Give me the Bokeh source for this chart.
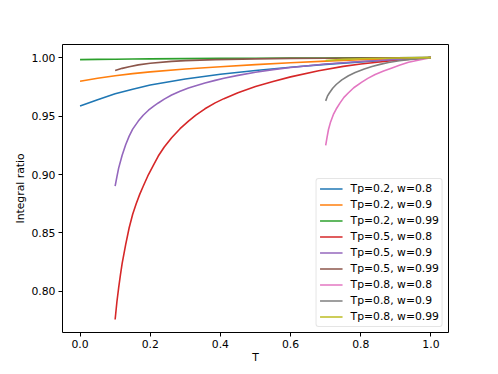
from bokeh.plotting import figure
from bokeh.models import Range1d, FixedTicker, Legend, LegendItem
from bokeh.embed import file_html
from bokeh.resources import INLINE

# ---- data ----
t_a = [0.0, 0.05, 0.1, 0.15, 0.2, 0.3, 0.4, 0.5, 0.6, 0.7, 0.8, 0.9, 1.0]
tp02_w08 = [0.9585, 0.9640, 0.9690, 0.9730, 0.9765, 0.9817, 0.9857, 0.9890, 0.9918, 0.9942, 0.9963, 0.9982, 1.0]
tp02_w09 = [0.9798, 0.9823, 0.9845, 0.9863, 0.9878, 0.9902, 0.9922, 0.9940, 0.9956, 0.9970, 0.9981, 0.9991, 1.0]
tp02_w099 = [0.9983, 0.9985, 0.9986, 0.9988, 0.9989, 0.9991, 0.9993, 0.9995, 0.9996, 0.9997, 0.9998, 0.9999, 1.0]

t_red = [0.1, 0.105, 0.11, 0.115, 0.12, 0.13, 0.14, 0.15, 0.16, 0.17, 0.18, 0.195, 0.21, 0.223,
         0.24, 0.261, 0.285, 0.309, 0.33, 0.356, 0.385, 0.41, 0.45, 0.5, 0.55, 0.6, 0.68, 0.75,
         0.8, 0.9, 1.0]
tp05_w08 = [0.776, 0.791, 0.803, 0.814, 0.824, 0.840, 0.8545, 0.866, 0.875, 0.883, 0.890, 0.900,
            0.9085, 0.9158, 0.9235, 0.9315, 0.9392, 0.9457, 0.9508, 0.9562, 0.9613, 0.9649, 0.970,
            0.9752, 0.9795, 0.9835, 0.9888, 0.9925, 0.9945, 0.9977, 1.0]

t_purple = [0.1, 0.105, 0.11, 0.12, 0.13, 0.14, 0.15, 0.166, 0.18, 0.195, 0.21, 0.223, 0.24,
            0.261, 0.285, 0.309, 0.33, 0.356, 0.385, 0.41, 0.45, 0.5, 0.55, 0.6, 0.7, 0.8, 0.9, 1.0]
tp05_w09 = [0.890, 0.898, 0.9055, 0.9165, 0.9255, 0.9328, 0.9388, 0.9457, 0.9507, 0.955, 0.9585,
            0.9612, 0.9645, 0.9680, 0.9713, 0.9740, 0.9760, 0.9782, 0.9805, 0.9823, 0.9848,
            0.9875, 0.9897, 0.9915, 0.9945, 0.9966, 0.9984, 1.0]

t_brown = [0.1, 0.12, 0.14, 0.166, 0.2, 0.261, 0.3, 0.385, 0.5, 0.6, 0.7, 0.8, 0.9, 1.0]
tp05_w099 = [0.9890, 0.9908, 0.9922, 0.9938, 0.9952, 0.9968, 0.9974, 0.9983, 0.9989, 0.9993,
             0.9995, 0.9997, 0.9999, 1.0]

t_pink = [0.7, 0.704, 0.708, 0.714, 0.722, 0.73, 0.741, 0.752, 0.765, 0.78, 0.803, 0.82, 0.841,
          0.865, 0.889, 0.91, 0.936, 0.97, 1.0]
tp08_w08 = [0.925, 0.932, 0.9385, 0.945, 0.9514, 0.956, 0.9613, 0.966, 0.9699, 0.9742, 0.979,
            0.9822, 0.9855, 0.9885, 0.9912, 0.9934, 0.996, 0.9982, 1.0]

t_gray = [0.7, 0.705, 0.71, 0.72, 0.73, 0.746, 0.765, 0.784, 0.81, 0.832, 0.855, 0.879, 0.91,
          0.936, 0.97, 1.0]
tp08_w09 = [0.963, 0.967, 0.9695, 0.9738, 0.977, 0.981, 0.9845, 0.9872, 0.9903, 0.9924, 0.9942,
            0.9958, 0.9973, 0.9983, 0.9993, 1.0]

t_olive = [0.7, 0.75, 0.8, 0.9, 1.0]
tp08_w099 = [0.9975, 0.9985, 0.9990, 0.9996, 1.0]

labels = ["Tp=0.2, w=0.8", "Tp=0.2, w=0.9", "Tp=0.2, w=0.99",
          "Tp=0.5, w=0.8", "Tp=0.5, w=0.9", "Tp=0.5, w=0.99",
          "Tp=0.8, w=0.8", "Tp=0.8, w=0.9", "Tp=0.8, w=0.99"]
colors = ["#1f77b4", "#ff7f0e", "#2ca02c", "#d62728", "#9467bd",
          "#8c564b", "#e377c2", "#7f7f7f", "#bcbd22"]

x_ticks = [0.0, 0.2, 0.4, 0.6, 0.8, 1.0]
x_tick_labels = ["0.0", "0.2", "0.4", "0.6", "0.8", "1.0"]
y_ticks = [0.80, 0.85, 0.90, 0.95, 1.00]
y_tick_labels = ["0.80", "0.85", "0.90", "0.95", "1.00"]

series = [(t_a, tp02_w08), (t_a, tp02_w09), (t_a, tp02_w099),
          (t_red, tp05_w08), (t_purple, tp05_w09), (t_brown, tp05_w099),
          (t_pink, tp08_w08), (t_gray, tp08_w09), (t_olive, tp08_w099)]

FONT = "DejaVu Sans"
FS = "10.8px"

p = figure(width=490, height=366, output_backend="svg", toolbar_location=None,
           x_range=Range1d(-0.05, 1.05), y_range=Range1d(0.7649, 1.0112),
           min_border_left=62, min_border_right=42, min_border_top=44, min_border_bottom=33)
p.background_fill_color = "white"
p.border_fill_color = "white"
p.xgrid.visible = False
p.ygrid.visible = False
p.outline_line_color = "black"
p.outline_line_width = 1

items = []
for (xs, ys), lab, c in zip(series, labels, colors):
    r = p.line(xs, ys, line_color=c, line_width=1.6, line_join="round")
    items.append(LegendItem(label=lab, renderers=[r]))

for ax, ticks, tl, lab in [(p.xaxis[0], x_ticks, x_tick_labels, "T"),
                           (p.yaxis[0], y_ticks, y_tick_labels, "Integral ratio")]:
    ax.ticker = FixedTicker(ticks=ticks)
    ax.major_label_overrides = {t: s for t, s in zip(ticks, tl)}
    ax.minor_tick_line_color = None
    ax.axis_line_color = None
    ax.major_tick_out = 4
    ax.major_tick_in = 0
    ax.major_tick_line_color = "black"
    ax.major_label_standoff = 3
    ax.major_label_text_font = FONT
    ax.major_label_text_font_size = FS
    ax.major_label_text_color = "black"
    ax.axis_label = lab
    ax.axis_label_text_font = FONT
    ax.axis_label_text_font_size = FS
    ax.axis_label_text_font_style = "normal"
    ax.axis_label_text_color = "black"
p.xaxis[0].axis_label_standoff = 0
p.yaxis[0].axis_label_standoff = 1

legend = Legend(items=items, location="bottom_right")
legend.margin = 5
legend.padding = 3
legend.spacing = 3
legend.label_height = 13
legend.glyph_height = 13
legend.glyph_width = 23
legend.label_standoff = 8
legend.label_text_font = FONT
legend.label_text_font_size = FS
legend.label_text_color = "black"
legend.border_line_color = "#cccccc"
legend.border_line_width = 1
legend.background_fill_color = "white"
legend.background_fill_alpha = 0.8
if "border_radius" in legend.properties():
    legend.border_radius = 3
p.add_layout(legend, "center")

open("out.html", "w").write(file_html(p, INLINE))
